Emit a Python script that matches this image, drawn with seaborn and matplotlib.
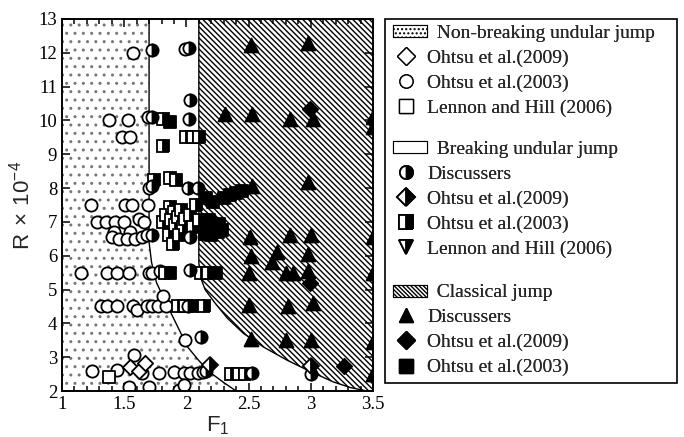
import numpy as np
import pandas as pd
import seaborn as sns
import matplotlib
matplotlib.use("Agg")
import matplotlib.pyplot as plt
from matplotlib.lines import Line2D
from matplotlib.patches import Rectangle, Polygon
from matplotlib.legend_handler import HandlerPatch
from matplotlib.ticker import MultipleLocator

# ---------------- data ----------------
# Non-breaking undular jump
nb_o2009_x = [1.55, 1.62, 1.67]
nb_o2009_y = [2.72, 2.60, 2.82]
nb_o2003_x = [1.57, 1.99, 1.38, 1.53, 1.69, 1.48, 1.55, 1.70, 1.23, 1.51, 1.56, 1.69,
              1.28, 1.35, 1.43, 1.50, 1.62, 1.66, 1.42, 1.55, 1.40, 1.46, 1.52, 1.59,
              1.64, 1.68, 1.15, 1.36, 1.44, 1.54, 1.70, 1.72, 1.79, 1.31, 1.36, 1.44,
              1.57, 1.60, 1.68, 1.72, 1.77, 1.84, 1.81, 1.99, 1.24, 1.44, 1.58, 1.64,
              1.78, 1.90, 1.98, 2.03, 2.09, 2.13, 1.54, 1.70, 1.94, 1.98]
nb_o2003_y = [12.00, 12.12, 10.00, 10.00, 10.10, 9.50, 9.50, 8.00, 7.50, 7.50, 7.50, 7.50,
              7.00, 7.00, 7.00, 7.00, 7.10, 7.00, 6.70, 6.70, 6.56, 6.50, 6.50, 6.50,
              6.56, 6.60, 5.50, 5.50, 5.50, 5.50, 5.50, 5.50, 5.55, 4.50, 4.50, 4.50,
              4.50, 4.40, 4.50, 4.50, 4.50, 4.50, 4.80, 3.50, 2.60, 2.62, 3.05, 2.52,
              2.52, 2.55, 2.52, 2.52, 2.52, 2.55, 2.12, 2.12, 2.03, 2.17]
nb_lh2006_x = [1.375]
nb_lh2006_y = [2.42]

# Breaking undular jump
br_disc_x = [1.72, 2.02, 2.03, 2.02, 1.72, 1.72, 2.01, 2.09, 1.72, 2.03, 2.03, 2.01,
             2.12, 2.16, 2.53, 3.00]
br_disc_y = [12.08, 12.15, 10.60, 10.05, 10.10, 8.05, 8.00, 8.00, 6.60, 6.55, 5.57, 4.50,
             3.60, 2.60, 2.52, 2.50]
br_o2009_x = [2.19, 3.00]
br_o2009_y = [2.76, 2.75]
br_o2003_x = [1.81, 2.00, 2.05, 2.10, 1.81, 1.74, 1.87, 1.92, 1.87, 1.90, 2.08, 1.81,
              1.84, 1.88, 1.91, 1.93, 1.96, 1.97, 1.99, 2.03, 1.86, 1.89, 1.94, 2.05,
              2.10, 1.83, 2.12, 2.17, 1.93, 1.99, 2.05, 2.14, 2.36, 2.42, 2.47]
br_o2003_y = [10.05, 9.50, 9.50, 9.50, 9.25, 8.25, 8.30, 8.25, 7.45, 7.30, 7.50, 7.00,
              7.20, 7.05, 6.90, 7.15, 7.35, 6.85, 7.10, 7.20, 6.60, 6.35, 6.60, 6.85,
              7.05, 5.50, 5.50, 5.50, 4.50, 4.50, 4.50, 4.50, 2.50, 2.50, 2.50]

# Classical jump
cl_disc_x = [2.52, 2.98, 2.31, 2.53, 2.83, 3.02, 3.50, 3.50, 2.98, 2.53, 2.51, 2.83,
             3.00, 3.50, 2.52, 2.73, 2.98, 2.69, 2.50, 2.80, 2.86, 2.98, 3.50, 2.50,
             2.82, 3.02, 2.52, 2.80, 3.00, 3.50, 3.50]
cl_disc_y = [12.23, 12.28, 10.20, 10.20, 10.05, 10.05, 10.10, 9.80, 8.17, 8.05, 6.55, 6.60,
             6.60, 6.55, 6.00, 6.10, 6.05, 5.82, 5.50, 5.50, 5.50, 5.55, 5.50, 4.55,
             4.50, 4.60, 3.55, 3.50, 3.50, 3.45, 2.50]
cl_o2009_x = [2.99, 2.99, 3.27]
cl_o2009_y = [10.35, 5.18, 2.75]
cl_o2003_x = [1.87, 2.24, 2.16, 2.21, 2.30, 2.35, 2.40, 2.45, 2.13, 2.18, 2.22, 2.26,
              2.15, 2.20, 2.25, 2.29, 1.87]
cl_o2003_y = [5.50, 5.50, 7.70, 7.60, 7.70, 7.80, 7.85, 7.90, 6.95, 7.05, 6.85, 6.95,
              6.65, 6.60, 6.70, 6.75, 9.95]

# Region boundaries
left_curve_x = [1.70, 1.70, 1.72, 1.76, 1.85, 1.93, 2.01, 2.10, 2.19, 2.30, 2.40]
left_curve_y = [13.0, 6.40, 5.80, 5.20, 4.50, 3.90, 3.30, 2.90, 2.55, 2.25, 2.00]
right_curve_x = [2.10, 2.10, 2.11, 2.15, 2.23, 2.33, 2.46, 2.62, 2.81, 3.00, 3.18, 3.32, 3.45]
right_curve_y = [13.0, 5.80, 5.40, 5.00, 4.60, 4.15, 3.70, 3.30, 2.91, 2.57, 2.27, 2.10, 2.00]

x_ticks = [1, 1.5, 2, 2.5, 3, 3.5]
x_ticklabels = ["1", "1.5", "2", "2.5", "3", "3.5"]
y_ticks = list(range(2, 14))

legend_labels = [
    ["Non-breaking undular jump", "Ohtsu et al.(2009)", "Ohtsu et al.(2003)", "Lennon and Hill (2006)"],
    ["Breaking undular jump", "Discussers", "Ohtsu et al.(2009)", "Ohtsu et al.(2003)", "Lennon and Hill (2006)"],
    ["Classical jump", "Discussers", "Ohtsu et al.(2009)", "Ohtsu et al.(2003)"],
]

# ---------------- style ----------------
sns.set_theme(style="ticks")
plt.rcParams["font.family"] = ["Liberation Serif", "DejaVu Serif"]
plt.rcParams["hatch.linewidth"] = 1.0
plt.rcParams["hatch.color"] = "black"

fig = plt.figure(figsize=(6.84, 4.37), dpi=100)
ax = fig.add_axes([62 / 684, 1 - 391 / 437, (373 - 62) / 684, (391 - 19) / 437])

# regions
nb_poly = [(1.0, 2.0), (1.0, 13.0)] + list(zip(left_curve_x, left_curve_y))
ax.add_patch(Polygon(nb_poly, closed=True, facecolor="white", edgecolor="#777777",
                     hatch="..", linewidth=0, zorder=0))
ax.plot(left_curve_x, left_curve_y, color="black", lw=1.0, zorder=1)
cl_poly = list(zip(right_curve_x, right_curve_y)) + [(3.5, 2.0), (3.5, 13.0)]
ax.add_patch(Polygon(cl_poly, closed=True, facecolor="white", edgecolor="black",
                     hatch="\\\\\\\\\\\\", linewidth=0, zorder=0))
ax.plot(right_curve_x, right_curve_y, color="black", lw=1.0, zorder=1)

# markers
ms_circle = 8.8
ms_sq = 8.0
ms_tri = 10.0
ms_dia = 7.8
mew = 1.3


def sc(x, y, marker, size, face):
    df = pd.DataFrame({"x": x, "y": y})
    sns.scatterplot(data=df, x="x", y="y", marker=marker, s=size ** 2, color=face,
                    edgecolor="black", linewidth=mew, ax=ax, zorder=3, legend=False)


def half(x, y, marker, size):
    ax.plot(x, y, linestyle="none", marker=marker, markersize=size, fillstyle="right",
            markerfacecolor="black", markerfacecoloralt="white", markeredgecolor="black",
            markeredgewidth=mew, zorder=4)


sc(nb_o2003_x, nb_o2003_y, "o", ms_circle, "white")
sc(nb_o2009_x, nb_o2009_y, "D", ms_dia, "white")
sc(nb_lh2006_x, nb_lh2006_y, "s", ms_sq + 1, "white")
half(br_o2003_x, br_o2003_y, "s", ms_sq)
sc(cl_o2003_x, cl_o2003_y, "s", ms_sq + 0.5, "black")
half(br_disc_x, br_disc_y, "o", ms_circle)
half(br_o2009_x, br_o2009_y, "D", ms_dia)
sc(cl_disc_x, cl_disc_y, "^", ms_tri, "black")
sc(cl_o2009_x, cl_o2009_y, "D", ms_dia, "black")

# axes formatting
ax.set_xlim(1, 3.5)
ax.set_ylim(2, 13)
ax.set_xticks(x_ticks)
ax.set_xticklabels(x_ticklabels)
ax.set_yticks(y_ticks)
ax.xaxis.set_minor_locator(MultipleLocator(0.1))
ax.tick_params(which="both", direction="in", top=True, right=True, labelsize=13.5,
               width=1.1, colors="black")
ax.tick_params(which="major", length=6)
ax.tick_params(which="minor", length=3.5)
for sp in ax.spines.values():
    sp.set_linewidth(1.4)
    sp.set_color("black")
    sp.set_zorder(6)
ax.set_xlabel(r"F$\mathregular{_1}$", fontsize=16, labelpad=1, fontfamily="Liberation Sans")
ax.set_ylabel(r"R$\mathregular{\,\times\,}$10$\mathregular{^{-4}}$", fontsize=16, labelpad=3,
              fontfamily="Liberation Sans")


# legend
class WidePatch(HandlerPatch):
    def create_artists(self, legend, orig_handle, xdescent, ydescent, width, height,
                       fontsize, trans):
        p = Rectangle((-xdescent, -ydescent + height * 0.05), width * 1.35, height * 0.85,
                      facecolor="white", edgecolor="black", hatch=orig_handle.get_hatch(),
                      linewidth=0.8, transform=trans)
        return [p]


def mk(marker, face, half_fill=False):
    if half_fill:
        return Line2D([], [], linestyle="none", marker=marker, markersize=9.5, fillstyle="right",
                      markerfacecolor="black", markerfacecoloralt="white",
                      markeredgecolor="black", markeredgewidth=mew)
    return Line2D([], [], linestyle="none", marker=marker, markersize=9.5,
                  markerfacecolor=face, markeredgecolor="black", markeredgewidth=1.0)


nb_patch = Rectangle((0, 0), 1, 1, hatch="....", facecolor="white", edgecolor="black")
br_patch = Rectangle((0, 0), 1, 1, hatch=None, facecolor="white", edgecolor="black")
cl_patch = Rectangle((0, 0), 1, 1, hatch="\\\\\\\\\\\\\\\\", facecolor="white", edgecolor="black")

sections = [
    [nb_patch, mk("D", "white"), mk("o", "white"), mk("s", "white")],
    [br_patch, mk("o", "black", True), mk("D", "black", True), mk("s", "black", True),
     mk("v", "black", True)],
    [cl_patch, mk("^", "black"), mk("D", "black"), mk("s", "black")],
]
centers_px = [70.5, 199, 330]
for handles, labels, cy in zip(sections, legend_labels, centers_px):
    labs = ["  " + labels[0]] + labels[1:]
    lg = fig.legend(handles, labs, loc="center left",
                    bbox_to_anchor=(393 / 684, 1 - cy / 437), frameon=False,
                    fontsize=14, handlelength=1.3, handletextpad=0.45, labelspacing=0.38,
                    borderpad=0, borderaxespad=0,
                    handler_map={Rectangle: WidePatch()})
    fig.add_artist(lg)

fig.add_artist(Rectangle((385 / 684, 1 - 383 / 437), 292 / 684, 364 / 437,
                         transform=fig.transFigure, fill=False, edgecolor="black",
                         linewidth=1.2))

fig.savefig("out.png", dpi=100)
